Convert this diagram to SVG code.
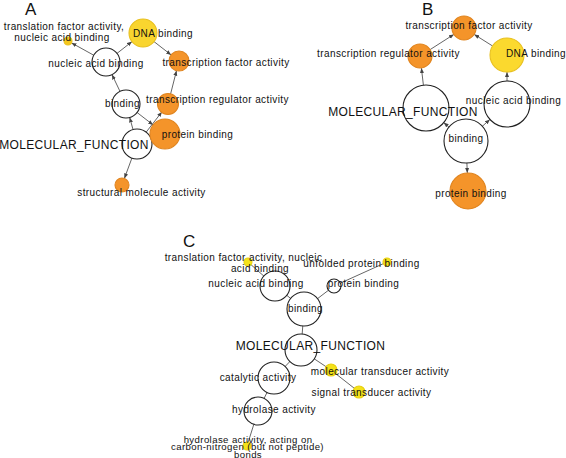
<svg xmlns="http://www.w3.org/2000/svg" width="566" height="458" viewBox="0 0 566 458">
<defs>
<marker id="arr" viewBox="0 0 10 10" refX="10" refY="5" markerWidth="5" markerHeight="5" orient="auto" markerUnits="userSpaceOnUse">
<path d="M0,1 L10,5 L0,9 z" fill="#444"/>
</marker>
</defs>
<style>
text{font-family:"Liberation Sans",Arial,sans-serif;font-size:10px;letter-spacing:0.4px;fill:#111;text-anchor:middle}
text.big{font-size:12px;letter-spacing:0.35px}
text.panel{font-size:17px;letter-spacing:0;text-anchor:start}
text.sm{font-size:9.6px}
.e line{stroke:#666;stroke-width:1}
.e .a{marker-end:url(#arr)}
circle{stroke:#222;stroke-width:1.1}
.w{fill:#fff}
.o{fill:#F4942A;stroke:#E08520}
.y{fill:#F9D52F;stroke:#E8C020}
.ly{fill:#F4E21A;stroke:#E8D010}
</style>
<rect width="566" height="458" fill="#fff"/>
<text class="panel" x="25" y="15">A</text>
<text class="panel" x="422" y="15">B</text>
<text class="panel" x="183" y="247">C</text>

<g id="connectors" class="e">
<!-- A -->
<line class="a" x1="93.7" y1="55.2" x2="71.5" y2="42.9"/>
<line class="a" x1="117" y1="53.4" x2="132" y2="41.6"/>
<line class="a" x1="154" y1="41.6" x2="171.1" y2="54.9"/>
<line class="a" x1="170.5" y1="94.3" x2="176.5" y2="70.7"/>
<line class="a" x1="120" y1="91.4" x2="112" y2="74.6"/>
<line class="a" x1="137.1" y1="112.5" x2="153.1" y2="124.9"/>
<line class="a" x1="133" y1="129.5" x2="129.7" y2="117.5"/>
<line class="a" x1="146.2" y1="132.1" x2="161.9" y2="111.9"/>
<line class="a" x1="131.9" y1="158.1" x2="124.4" y2="178.4"/>
<!-- B -->
<line class="a" x1="430.1" y1="49.6" x2="453.9" y2="34.4"/>
<line class="a" x1="492.6" y1="46" x2="474.2" y2="34.4"/>
<line class="a" x1="423.4" y1="85.1" x2="421.4" y2="68.1"/>
<line class="a" x1="507" y1="81" x2="507" y2="72"/>
<line class="a" x1="450" y1="128" x2="443.7" y2="122.6"/>
<line class="a" x1="481" y1="127.5" x2="489.9" y2="119.4"/>
<line class="a" x1="466.9" y1="163" x2="467.3" y2="173"/>
<!-- C -->
<line x1="275" y1="286" x2="248" y2="262"/>
<line x1="304" y1="309" x2="275" y2="286"/>
<line x1="304" y1="309" x2="334" y2="286"/>
<line x1="334" y1="286" x2="387" y2="262"/>
<line x1="301" y1="350" x2="304" y2="309"/>
<line x1="301" y1="350" x2="331" y2="370"/>
<line x1="331" y1="370" x2="359" y2="392"/>
<line x1="301" y1="350" x2="274" y2="378"/>
<line x1="274" y1="378" x2="258" y2="411"/>
<line x1="258" y1="411" x2="247" y2="446"/>
</g>

<!-- Panel A nodes -->
<g id="A-translation"><circle class="y" cx="68" cy="41" r="4" style="fill:#F5C71C"/><text x="64" y="29.5">translation factor activity,</text><text x="62" y="40.5">nucleic acid binding</text></g>
<g id="A-dna"><circle class="y" cx="143" cy="33" r="14"/><text x="163" y="36.5">DNA binding</text></g>
<g id="A-nucleic"><circle class="w" cx="106" cy="62" r="14"/><text x="96" y="66.5">nucleic acid binding</text></g>
<g id="A-tfa"><circle class="o" cx="179" cy="61" r="10"/><text x="226" y="65.5">transcription factor activity</text></g>
<g id="A-binding"><circle class="w" cx="126" cy="104" r="14"/><text x="122.5" y="106.5">binding</text></g>
<g id="A-tra"><circle class="o" cx="168" cy="104" r="10.5"/><text x="217.5" y="102.5">transcription regulator activity</text></g>
<g id="A-mf"><circle class="w" cx="137" cy="144" r="15"/><text class="big" x="74" y="148.5">MOLECULAR_FUNCTION</text></g>
<g id="A-protein"><circle class="o" cx="165" cy="134" r="15"/><text x="197.5" y="137.5">protein binding</text></g>
<g id="A-structural"><circle class="o" cx="122" cy="185" r="7"/><text x="141.5" y="195.5">structural molecule activity</text></g>

<!-- Panel B nodes -->
<g id="B-tfa"><circle class="o" cx="464" cy="28" r="12"/><text x="469" y="28.5">transcription factor activity</text></g>
<g id="B-tra"><circle class="o" cx="420" cy="56" r="12"/><text x="388.5" y="56.5">transcription regulator activity</text></g>
<g id="B-dna"><circle class="y" cx="507" cy="55" r="17" style="fill:#FBD92E"/><text x="536" y="56.5">DNA binding</text></g>
<g id="B-mf"><circle class="w" cx="426" cy="108" r="23"/><text class="big" x="403" y="115.5">MOLECULAR_FUNCTION</text></g>
<g id="B-nucleic"><circle class="w" cx="507" cy="104" r="23"/><text x="513.5" y="103.5">nucleic acid binding</text></g>
<g id="B-binding"><circle class="w" cx="466" cy="141" r="22"/><text x="466" y="141.5">binding</text></g>
<g id="B-protein"><circle class="o" cx="468" cy="191" r="18"/><text x="471" y="196.5">protein binding</text></g>

<!-- Panel C nodes -->
<g id="C-nucleic"><circle class="w" cx="275" cy="286" r="15"/><text x="256" y="286.5">nucleic acid binding</text></g>
<g id="C-translation"><circle class="ly" cx="248" cy="262" r="4"/><text x="243.5" y="260.5">translation factor activity, nucleic</text><text x="260" y="271.5">acid binding</text></g>
<g id="C-protein"><circle class="w" cx="334" cy="286" r="7"/><text x="363.5" y="286.5">protein binding</text></g>
<g id="C-unfolded"><circle class="ly" cx="387" cy="262" r="4"/><text x="361.5" y="266.5">unfolded protein binding</text></g>
<g id="C-binding"><circle class="w" cx="304" cy="309" r="17"/><text x="305.5" y="311.5">binding</text></g>
<g id="C-mf"><circle class="w" cx="301" cy="350" r="16"/><text class="big" x="310.5" y="349.5">MOLECULAR_FUNCTION</text></g>
<g id="C-moltrans"><circle class="ly" cx="331" cy="370" r="6"/><text x="380" y="374.5">molecular transducer activity</text></g>
<g id="C-signal"><circle class="ly" cx="359" cy="392" r="6"/><text x="371.5" y="395.5">signal transducer activity</text></g>
<g id="C-catalytic"><circle class="w" cx="274" cy="378" r="16"/><text x="258" y="380.5">catalytic activity</text></g>
<g id="C-hydrolase"><circle class="w" cx="258" cy="411" r="14"/><text x="274" y="412.5">hydrolase activity</text></g>
<g id="C-hydro-cn"><circle class="ly" cx="247" cy="446" r="4"/><text class="sm" x="248" y="442.5">hydrolase activity, acting on</text><text class="sm" x="247.5" y="450">carbon-nitrogen (but not peptide)</text><text class="sm" x="248" y="457.5">bonds</text></g>
</svg>
